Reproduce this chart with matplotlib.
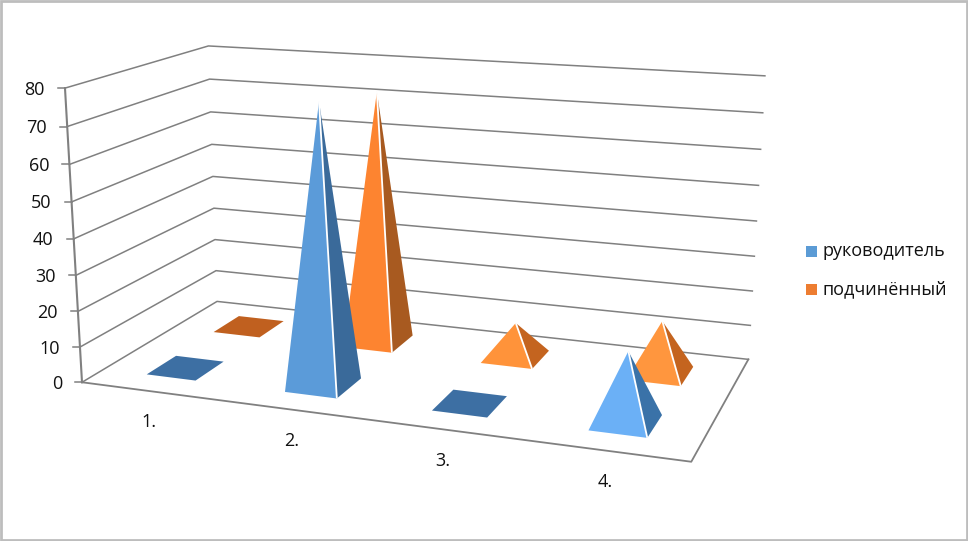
import numpy as np
import matplotlib
matplotlib.use("Agg")
import matplotlib.pyplot as plt
from matplotlib.patches import Polygon, Rectangle

categories = ["1.", "2.", "3.", "4."]
series_names = ["руководитель", "подчинённый"]
rukovoditel = [0, 77, 0, 19]
podchinenny = [0, 73, 10, 15]
value_ticks = [0, 10, 20, 30, 40, 50, 60, 70, 80]

BLUE_FRONT = ["#3D6FA3", "#5B9BD9", "#3D6FA3", "#6BB0F6"]
BLUE_SIDE = ["#3D6FA3", "#3A6A9A", "#3D6FA3", "#3A72A8"]
ORANGE_FRONT = ["#C0601F", "#FD8430", "#FF933A", "#FF963E"]
ORANGE_SIDE = ["#C0601F", "#A85A20", "#C4641F", "#C4641F"]

# Camera calibration: world (category, depth, value) -> canvas pixels
world = np.array([
    (0, 0, 0), (0, 0, 80), (0, 1, 0), (0, 1, 80), (4, 1, 0), (4, 1, 80), (4, 0, 0),
    (0, 0, 40), (0, 1, 40), (4, 1, 40)], float)
pixel = np.array([
    (81, 383), (66, 88), (218, 301), (207, 46), (748, 359), (765, 76), (691, 462),
    (74, 238), (213, 177), (757, 221)], float)
A, b = [], []
for (X, Y, Z), (u, v) in zip(world, pixel):
    A.append([X, Y, Z, 1, 0, 0, 0, 0, -u * X, -u * Y, -u * Z]); b.append(u)
    A.append([0, 0, 0, 0, X, Y, Z, 1, -v * X, -v * Y, -v * Z]); b.append(v)
P = np.append(np.linalg.lstsq(np.array(A), np.array(b), rcond=None)[0], 1).reshape(3, 4)


def proj(x, y, z):
    h = P @ np.array([x, y, z, 1.0])
    return h[0] / h[2], h[1] / h[2]


plt.rcParams["font.family"] = ["Open Sans", "DejaVu Sans"]
fig = plt.figure(figsize=(9.68, 5.41), dpi=100)
ax = fig.add_axes([0, 0, 1, 1])
ax.set_xlim(0, 968)
ax.set_ylim(541, 0)
ax.axis("off")

GRID = "#808080"
# chart frame
ax.add_patch(Rectangle((1, 0.5), 966, 539.5, fill=False, ec="#BDBDBD", lw=2))

# walls' gridlines and tick stubs
for v in value_ticks:
    pts = [proj(0, 0, v), proj(0, 1, v), proj(4, 1, v)]
    ax.plot(*zip(*pts), color=GRID, lw=1.1, zorder=1)
    fx, fy = pts[0]
    ax.plot([fx - 7, fx], [fy, fy], color=GRID, lw=1.1, zorder=1)
    ax.text(fx - 20, fy + 1.5, str(v), ha="right", va="center", fontsize=13, color="#111111")

# floor outline and vertical axis
floor = [proj(0, 0, 0), proj(4, 0, 0), proj(4, 1, 0)]
ax.plot(*zip(*floor), color=GRID, lw=1.3, zorder=1)
ax.plot(*zip(proj(0, 0, 0), proj(0, 0, 80)), color=GRID, lw=1.5, zorder=1)

# category labels
for i, c in enumerate(categories):
    x, y = proj(i + 0.5, 0, 0)
    ax.text(x - 1, y + 31, c, ha="center", va="center", fontsize=13, color="#111111")

HALF_W = 0.18
HALF_D = 0.105
DEPTHS = [0.25, 0.75]


def pyramid(i, depth, value, front, side, z):
    cx = i + 0.5
    fl = proj(cx - HALF_W, depth - HALF_D, 0)
    fr = proj(cx + HALF_W, depth - HALF_D, 0)
    br = proj(cx + HALF_W, depth + HALF_D, 0)
    bl = proj(cx - HALF_W, depth + HALF_D, 0)
    if value == 0:
        ax.add_patch(Polygon([fl, fr, br, bl], closed=True, fc=front, ec="none", zorder=z))
        return
    apex = proj(cx, depth, value)
    ax.add_patch(Polygon([fr, br, apex], closed=True, fc=side, ec="none", zorder=z))
    ax.add_patch(Polygon([fl, fr, apex], closed=True, fc=front, ec="none", zorder=z))
    ax.plot(*zip(fr, apex), color="white", lw=1.3, zorder=z + 0.1, solid_capstyle="butt")


for i in range(len(categories)):
    pyramid(i, DEPTHS[1], podchinenny[i], ORANGE_FRONT[i], ORANGE_SIDE[i], 3 + i * 0.01)
for i in range(len(categories)):
    pyramid(i, DEPTHS[0], rukovoditel[i], BLUE_FRONT[i], BLUE_SIDE[i], 4 + i * 0.01)

# legend
for name, col, yc in zip(series_names, ["#5B9BD5", "#ED7D31"], [251.5, 289.5]):
    ax.add_patch(Rectangle((806, yc - 5.5), 11, 11, fc=col, ec="none"))
    ax.text(822, yc, name, ha="left", va="center", fontsize=13, color="#111111")

fig.savefig("out.png", dpi=100)
